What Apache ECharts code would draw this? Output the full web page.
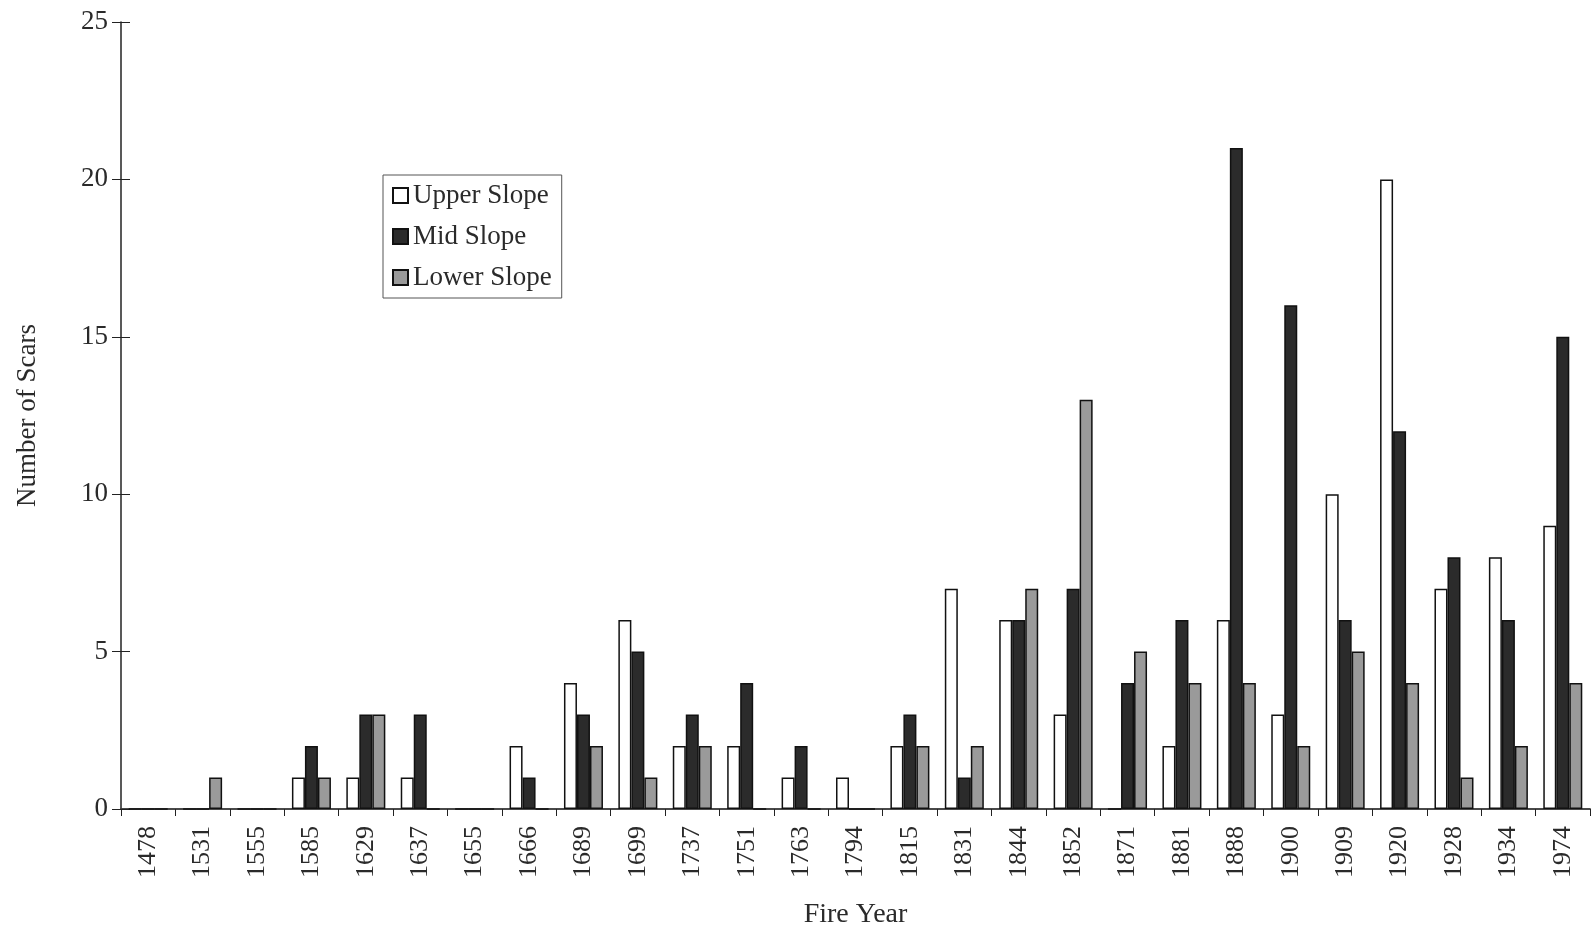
<!DOCTYPE html>
<html>
<head>
<meta charset="utf-8">
<script src="https://cdn.jsdelivr.net/npm/echarts@6/dist/echarts.min.js"></script>
<style>
html,body{margin:0;padding:0;background:#fff;}
#chart{width:1596px;height:929px;}
</style>
</head>
<body>
<div id="chart"></div>
<script>
const years = ['1478','1531','1555','1585','1629','1637','1655','1666','1689','1699','1737','1751','1763','1794','1815','1831','1844','1852','1871','1881','1888','1900','1909','1920','1928','1934','1974'];
const upperSlope = [0,0,0,1,1,1,0,2,4,6,2,2,1,1,2,7,6,3,0,2,6,3,10,20,7,8,9];
const midSlope   = [0,0,0,2,3,3,0,1,3,5,3,4,2,0,3,1,6,7,4,6,21,16,6,12,8,6,15];
const lowerSlope = [0,1,0,1,3,0,0,0,2,1,2,0,0,0,2,2,7,13,5,4,4,2,5,4,1,2,4];
const yTicks = [0,5,10,15,20,25];

const FONT = 'Liberation Serif';
const TXT = '#2a2a2a';
const chart = echarts.init(document.getElementById('chart'));
chart.setOption({
  backgroundColor: '#ffffff',
  animation: false,
  legend: {
    orient: 'vertical',
    left: 383, top: 175,
    padding: [7, 10, 7, 9],
    itemGap: 14,
    itemWidth: 15, itemHeight: 15,
    icon: 'rect',
    borderColor: '#555', borderWidth: 1,
    textStyle: { fontFamily: FONT, fontSize: 27, color: TXT },
    data: ['Upper Slope','Mid Slope','Lower Slope']
  },
  grid: { left: 121, right: 6, top: 22, bottom: 120, outerBoundsMode: 'none', containLabel: false },
  xAxis: [{
    type: 'category',
    data: years,
    name: 'Fire Year',
    nameLocation: 'middle',
    nameGap: 92,
    nameTextStyle: { fontFamily: FONT, fontSize: 28, color: TXT },
    axisLine: { lineStyle: { color: '#222', width: 1.5 } },
    axisTick: { show: true, length: 7, lineStyle: { color: '#222' } },
    axisLabel: { rotate: 90, margin: 17, fontFamily: FONT, fontSize: 26, color: TXT, interval: 0 }
  }, {
    type: 'category',
    data: years,
    position: 'top',
    axisLine: { lineStyle: { color: '#444', width: 1.5 } },
    axisTick: { show: false },
    axisLabel: { show: false }
  }],
  yAxis: [{
    type: 'value',
    min: 0, max: 25, interval: 5,
    name: 'Number of Scars',
    nameLocation: 'middle',
    nameGap: 80,
    nameTextStyle: { fontFamily: FONT, fontSize: 27, color: TXT },
    axisLine: { show: true, lineStyle: { color: '#222', width: 1.5 } },
    axisTick: { show: true, length: 9, lineStyle: { color: '#222' } },
    axisLabel: { margin: 13, fontFamily: FONT, fontSize: 27, color: TXT, formatter: v => yTicks.includes(v) ? String(v) : '' },
    splitLine: { show: false }
  }, {
    type: 'value',
    min: 0, max: 25, interval: 5,
    position: 'left',
    axisLine: { show: false },
    axisTick: { show: true, inside: true, length: 9, lineStyle: { color: '#222' } },
    axisLabel: { show: false },
    splitLine: { show: false }
  }],
  series: [{
    name: 'Upper Slope', type: 'bar', data: upperSlope,
    barWidth: 13, barGap: '0%',
    itemStyle: { color: '#ffffff', borderColor: '#111', borderWidth: 1.5 }
  }, {
    name: 'Mid Slope', type: 'bar', data: midSlope,
    barWidth: 13, barGap: '0%',
    itemStyle: { color: '#2b2b2b', borderColor: '#111', borderWidth: 1.5 }
  }, {
    name: 'Lower Slope', type: 'bar', data: lowerSlope,
    barWidth: 13, barGap: '0%',
    itemStyle: { color: '#9a9a9a', borderColor: '#111', borderWidth: 1.5 }
  }]
});
</script>
</body>
</html>
